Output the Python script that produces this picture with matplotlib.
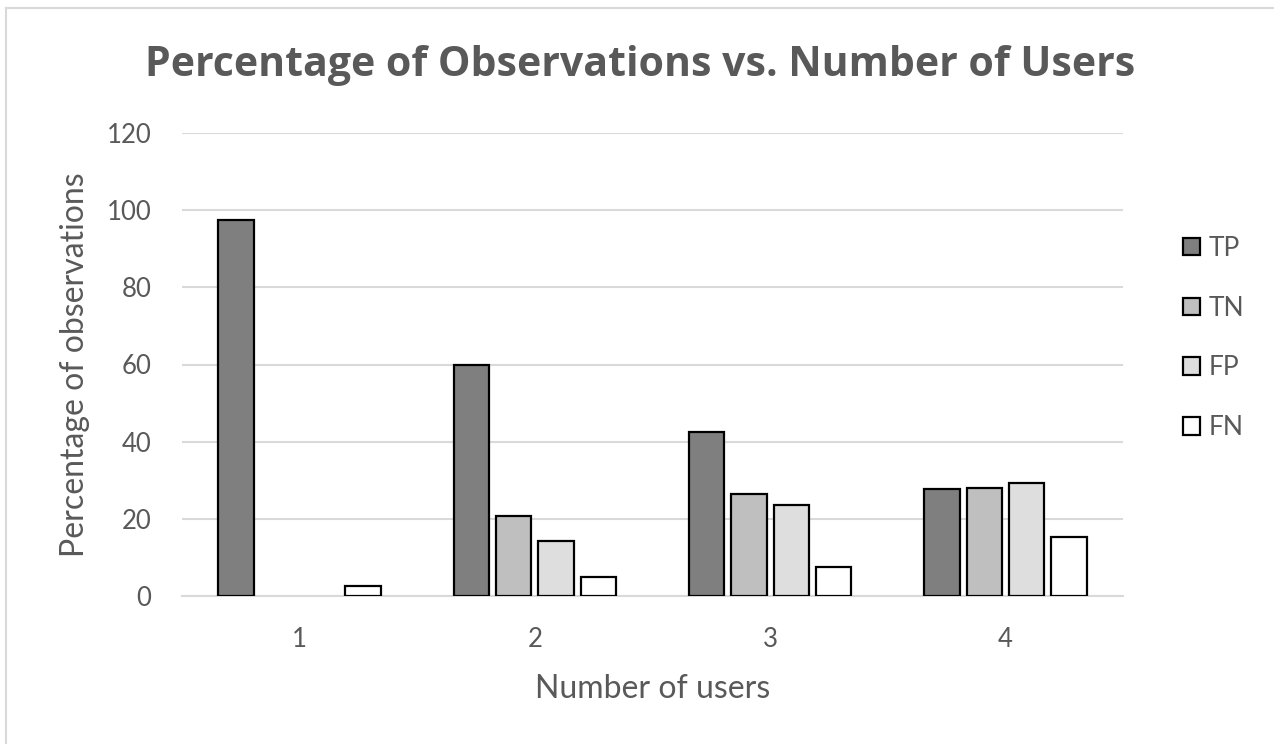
import matplotlib
matplotlib.use("Agg")
import matplotlib.pyplot as plt
import numpy as np
from matplotlib.patches import Rectangle
from matplotlib.lines import Line2D

# Data
users = ["1", "2", "3", "4"]
series = ["TP", "TN", "FP", "FN"]
tp = [97.4, 60.0, 42.6, 27.7]
tn = [0.0, 20.7, 26.4, 28.0]
fp = [0.0, 14.3, 23.6, 29.2]
fn = [2.7, 4.8, 7.6, 15.3]
yticks = [0, 20, 40, 60, 80, 100, 120]

colors = ["#7f7f7f", "#bfbfbf", "#dedede", "#ffffff"]
text_color = "#595959"
grid_color = "#d9d9d9"

plt.rcParams["font.family"] = ["Lato", "DejaVu Sans"]

fig = plt.figure(figsize=(12.74, 7.44), dpi=100)
ax = fig.add_axes([182 / 1274, 1 - 596 / 744, (1123 - 182) / 1274, (596 - 133) / 744])

x = np.arange(1, len(users) + 1)
width = 0.15
pitch = 0.18
handles = []
for i, (name, vals, c) in enumerate(zip(series, [tp, tn, fp, fn], colors)):
    offs = (i - 1.5) * pitch
    vals = np.array(vals)
    mask = vals > 0
    ax.bar(x[mask] + offs, vals[mask], width=width, color=c, edgecolor="black",
           linewidth=1.6, zorder=3)
    handles.append(Rectangle((0, 0), 1, 1, facecolor=c, edgecolor="black", linewidth=1.6))

ax.set_xlim(0.5, 4.5)
ax.set_ylim(0, 120)
ax.set_yticks(yticks)
ax.set_xticks(x)
ax.set_xticklabels(users)
ax.yaxis.grid(True, color=grid_color, linewidth=1.5, zorder=0)
ax.set_axisbelow(True)
for s in ["top", "right", "left"]:
    ax.spines[s].set_visible(False)
ax.spines["bottom"].set_color(grid_color)
ax.spines["bottom"].set_linewidth(1.5)
ax.tick_params(axis="both", length=0, labelsize=18.5, labelcolor=text_color)
ax.tick_params(axis="x", pad=22)
ax.tick_params(axis="y", pad=22)

ax.set_xlabel("Number of users", fontsize=23, color=text_color, labelpad=16)
ax.set_ylabel("Percentage of observations", fontsize=23, color=text_color, labelpad=12)

fig.suptitle("Percentage of Observations vs. Number of Users", fontsize=29.5,
             fontweight="bold", family=["Open Sans", "DejaVu Sans"], color=text_color,
             x=640 / 1274, y=1 - 45 / 744, va="top")

fig.legend(handles, series, loc="center left", bbox_to_anchor=(1170 / 1274, 1 - 338 / 744),
           frameon=False, fontsize=19, labelcolor=text_color, handlelength=0.65,
           handleheight=0.65, handletextpad=0.3, labelspacing=1.32, borderpad=0)

# chart-area border
fig.add_artist(Line2D([6 / 1274, 6 / 1274], [0, 1 - 8 / 744], transform=fig.transFigure,
                      color="#d9d9d9", linewidth=1.5))
fig.add_artist(Line2D([6 / 1274, 1], [1 - 8 / 744, 1 - 8 / 744], transform=fig.transFigure,
                      color="#d9d9d9", linewidth=1.5))

fig.savefig("out.png", dpi=100)
